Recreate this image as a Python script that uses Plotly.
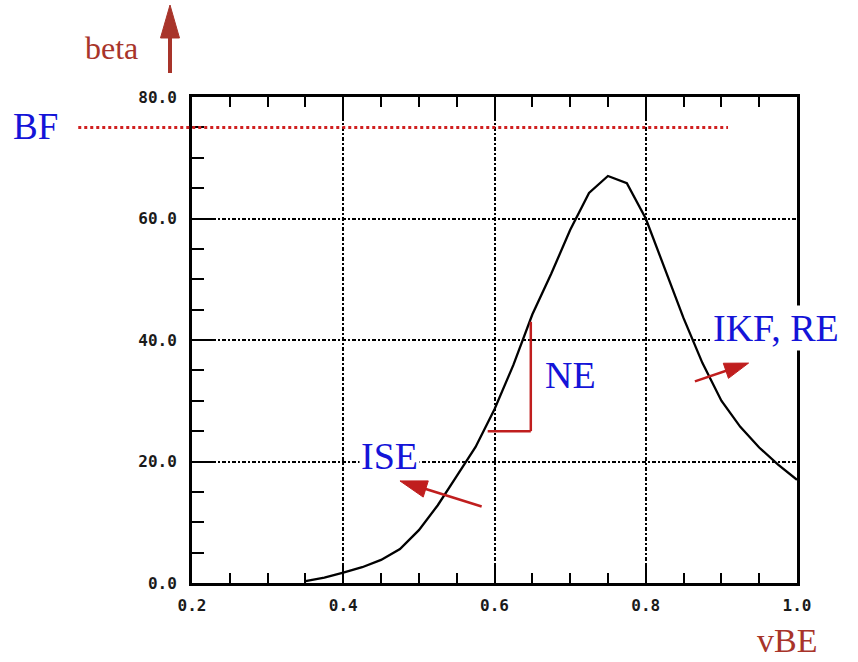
import plotly.graph_objects as go

# Forward current gain versus base-emitter voltage
vbe = [0.35, 0.375, 0.40, 0.425, 0.45, 0.475, 0.50, 0.525, 0.55, 0.575,
       0.60, 0.625, 0.65, 0.675, 0.70, 0.725, 0.75, 0.775, 0.80, 0.825,
       0.85, 0.875, 0.90, 0.925, 0.95, 0.975, 1.00]
beta = [0.3, 0.9, 1.7, 2.6, 3.8, 5.6, 8.7, 12.8, 17.6, 22.4,
        28.6, 35.9, 44.2, 50.9, 58.1, 64.2, 67.0, 65.8, 60.0, 51.8,
        43.6, 36.2, 30.0, 25.7, 22.3, 19.5, 17.0]
bf_level = 75.0

x_ticks = [0.2, 0.4, 0.6, 0.8, 1.0]
y_ticks = [0, 20, 40, 60, 80]
x_range = [0.2, 1.0]
y_range = [0, 80]

# Figure geometry
W, H = 858, 662
ML, MR, MT, MB = 192, 61, 97, 79
PW, PH = W - ML - MR, H - MT - MB
SX = PW / (x_range[1] - x_range[0])   # px per volt
SY = PH / (y_range[1] - y_range[0])   # px per unit of beta

RED = "#c01e1e"
BROWN = "#a8342a"
BLUE = "#1414d8"
SERIF = "Liberation Serif"


def head_path(x0, y0, x1, y1, length, width, sx, sy):
    """Filled triangular arrow head at (x1, y1), pointing away from (x0, y0).
    length / width are in pixels; sx / sy convert units to pixels."""
    dx, dy = (x1 - x0) * sx, (y1 - y0) * sy
    n = (dx * dx + dy * dy) ** 0.5
    ux, uy = dx / n, dy / n
    bx, by = -ux * length, -uy * length
    px, py = -uy * width / 2, ux * width / 2
    pts = [(0, 0), (bx + px, by + py), (bx - px, by - py)]
    coords = [(x1 + a / sx, y1 + b / sy) for a, b in pts]
    return "M " + " L ".join(f"{a:.5f},{b:.5f}" for a, b in coords) + " Z", \
        (x1 + bx * 0.6 / sx, y1 + by * 0.6 / sy)


shapes = []


def data_arrow(x0, y0, x1, y1, length, width, color, lw):
    path, (sx_end, sy_end) = head_path(x0, y0, x1, y1, length, width, SX, SY)
    shapes.append(dict(type="line", xref="x", yref="y", x0=x0, y0=y0,
                       x1=sx_end, y1=sy_end, line=dict(color=color, width=lw)))
    shapes.append(dict(type="path", xref="x", yref="y", path=path,
                       fillcolor=color, line=dict(color=color, width=1)))


# ISE arrow (low-current region) and IKF/RE arrow (high-current region)
data_arrow(0.583, 12.6, 0.475, 16.8, 27, 17, RED, 2.5)
data_arrow(0.865, 33.2, 0.936, 36.2, 24, 16, RED, 2.5)

# NE slope bracket
shapes.append(dict(type="line", xref="x", yref="y", x0=0.648, y0=25.0,
                   x1=0.648, y1=43.0, line=dict(color=RED, width=2.5)))
shapes.append(dict(type="line", xref="x", yref="y", x0=0.591, y0=25.0,
                   x1=0.648, y1=25.0, line=dict(color=RED, width=2.5)))

# BF level, running out past the left axis
shapes.append(dict(type="line", xref="paper", yref="y", x0=-0.188, x1=0.886,
                   y0=bf_level, y1=bf_level, layer="above",
                   line=dict(color="#d02020", width=3, dash="dot")))

# "beta" axis arrow above the plot (paper coordinates)
PX = 1 / PW
PY = 1 / PH
bx = -22 * PX
shapes.append(dict(type="line", xref="paper", yref="paper", x0=bx, x1=bx,
                   y0=1 + 24 * PY, y1=1 + 60 * PY,
                   line=dict(color=BROWN, width=4)))
bpath, _ = head_path(bx, 1 + 40 * PY, bx, 1 + 92 * PY, 33, 19, PW, PH)
shapes.append(dict(type="path", xref="paper", yref="paper", path=bpath,
                   fillcolor=BROWN, line=dict(color=BROWN, width=1)))


def label(text, x, y, size, color, ref="paper", bg=None, pad=1):
    d = dict(text=text, xref=ref if ref == "paper" else "x",
             yref=ref if ref == "paper" else "y", x=x, y=y,
             xanchor="center", yanchor="middle", showarrow=False,
             borderpad=pad, font=dict(family=SERIF, size=size, color=color))
    if bg:
        d["bgcolor"] = bg
    return d


annotations = [
    label("beta", -81 * PX, 1 + 49 * PY, 32, BROWN),
    label("BF", -157 * PX, (PH - 30) * PY, 37, BLUE),
    label("vBE", (PW - 10) * PX, -57 * PY, 34, BROWN, pad=0),
    label("ISE", 0.4605, 20.9, 38, BLUE, ref="data", bg="white"),
    label("NE", 0.701, 34.2, 38, BLUE, ref="data"),
    label("IKF, RE", 0.972, 42.0, 38, BLUE, ref="data", bg="white"),
]

fig = go.Figure()
fig.add_trace(go.Scatter(x=vbe, y=beta, mode="lines",
                         line=dict(color="black", width=2.3), hoverinfo="skip"))

tick_font = dict(family="DejaVu Sans Mono", size=16, color="#1a1a1a",
                 weight="bold")
grid_dash = "4px,2px,2px,2px"

fig.update_xaxes(
    range=x_range, tickvals=x_ticks, ticktext=[f"{v:.1f}" for v in x_ticks],
    showline=True, linecolor="black", linewidth=3, mirror="allticks",
    ticks="inside", ticklen=20, tickwidth=2, tickcolor="black",
    showgrid=True, gridcolor="black", gridwidth=2, griddash=grid_dash,
    zeroline=False, tickfont=tick_font, ticklabelstandoff=6,
    minor=dict(dtick=0.05, ticks="inside", ticklen=10, tickwidth=2,
               tickcolor="black", showgrid=False),
)
fig.update_yaxes(
    range=y_range, tickvals=y_ticks, ticktext=[f"{v:.1f}" for v in y_ticks],
    showline=True, linecolor="black", linewidth=3, mirror=True,
    ticks="inside", ticklen=24, tickwidth=2, tickcolor="black",
    showgrid=True, gridcolor="black", gridwidth=2, griddash=grid_dash,
    zeroline=False, tickfont=tick_font, ticklabelstandoff=9,
    minor=dict(dtick=5, ticks="inside", ticklen=12, tickwidth=2,
               tickcolor="black", showgrid=False),
)

fig.update_layout(
    width=W, height=H,
    margin=dict(l=ML, r=MR, t=MT, b=MB),
    paper_bgcolor="white", plot_bgcolor="white",
    showlegend=False,
    shapes=shapes,
    annotations=annotations,
)

fig.write_html("out.html")
